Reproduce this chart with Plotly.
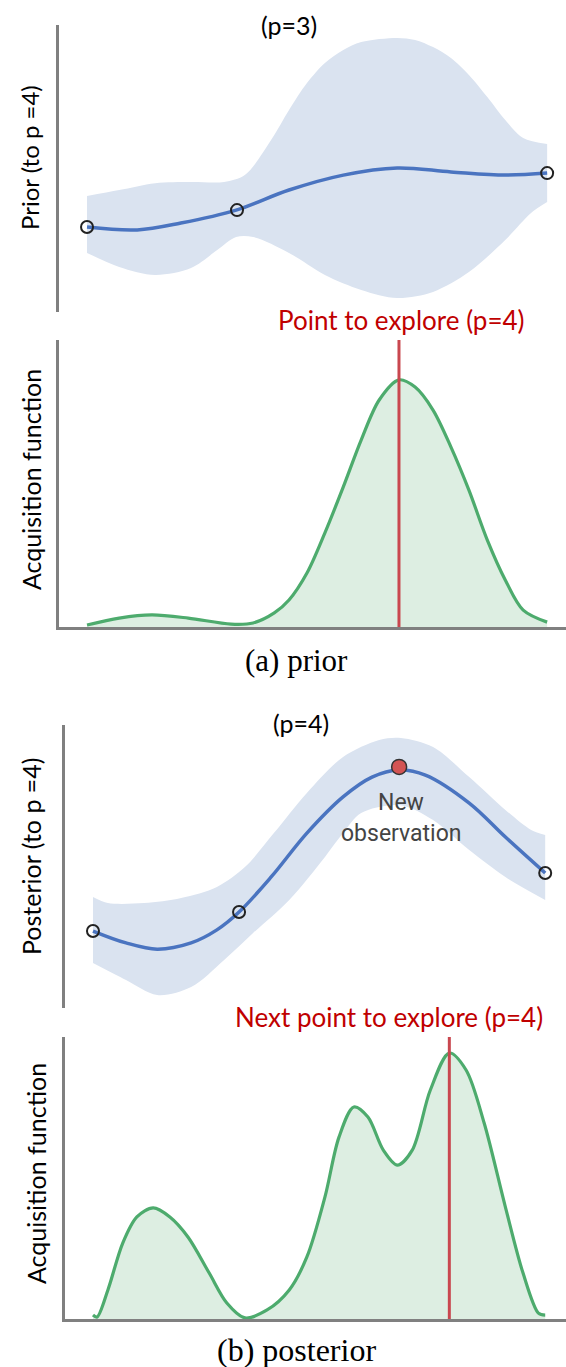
import plotly.graph_objects as go

W, H = 566, 1367

# ---------------- data (arbitrary units, x: 0..10, y: 0..10) ----------------
# (a) prior: GP mean / confidence band (p=3)
prior_mean_x = [0, 1.09, 2.04, 3.24, 4.39, 5.57, 6.74, 7.91, 9.09, 10]
prior_mean_y = [2.96, 2.86, 3.10, 3.55, 4.25, 4.77, 5.02, 4.88, 4.77, 4.84]
prior_up_x = [0, 0.70, 1.48, 2.26, 2.98, 3.43, 4.00, 4.39, 4.78, 5.17, 5.57, 5.96,
              6.74, 7.13, 7.52, 7.91, 8.30, 8.70, 9.09, 9.48, 10]
prior_up_y = [4.04, 4.25, 4.49, 4.53, 4.53, 4.77, 5.99, 7.04, 7.98, 8.68, 9.13, 9.41,
              9.55, 9.48, 9.23, 8.85, 8.26, 7.49, 6.69, 6.06, 5.85]
prior_lo_x = [0, 0.70, 1.48, 2.26, 2.83, 3.24, 3.61, 4.39, 5.17, 5.96, 6.74, 7.52,
              8.30, 9.09, 9.65, 10]
prior_lo_y = [2.06, 1.57, 1.29, 1.53, 2.16, 2.61, 2.61, 2.06, 1.29, 0.77, 0.49, 0.70,
              1.39, 2.51, 3.45, 3.83]
prior_obs_x = [0, 3.26, 10]
prior_obs_y = [2.96, 3.55, 4.84]

# (a) acquisition function
acq_a_x = [0, 0.70, 1.41, 2.20, 3.13, 3.61, 4.07, 4.39, 4.78, 5.17, 5.57, 5.96,
           6.35, 6.78, 7.13, 7.52, 7.91, 8.30, 8.70, 9.09, 9.48, 10]
acq_a_y = [0.07, 0.31, 0.42, 0.31, 0.10, 0.14, 0.49, 0.94, 1.88, 3.28, 4.88, 6.52,
           7.91, 8.61, 8.36, 7.56, 6.27, 4.77, 3.03, 1.64, 0.59, 0.17]
explore_a_x = 6.78

# (b) posterior: GP mean / band (p=4)
post_mean_x = [0, 0.73, 1.42, 2.17, 2.74, 3.23, 3.94, 4.73, 5.53, 6.17, 6.77, 7.35,
               8.32, 9.12, 10]
post_mean_y = [2.72, 2.30, 2.08, 2.30, 2.76, 3.39, 4.63, 6.18, 7.46, 8.16, 8.41, 8.23,
               7.24, 6.04, 4.77]
post_up_x = [0, 0.33, 1.13, 1.95, 2.74, 3.36, 4.00, 4.73, 5.53, 6.33, 6.81, 7.52,
             8.32, 9.12, 9.69, 10]
post_up_y = [3.92, 3.71, 3.71, 3.89, 4.28, 4.98, 6.18, 7.60, 8.87, 9.47, 9.54, 9.22,
             8.16, 7.00, 6.29, 6.11]
post_lo_x = [0, 0.73, 1.42, 2.17, 2.90, 3.54, 4.34, 5.13, 5.53, 5.93, 6.77, 7.52,
             8.32, 9.12, 10]
post_lo_y = [1.59, 0.99, 0.46, 0.74, 1.70, 2.65, 3.82, 5.34, 6.18, 6.89, 7.17, 6.64,
             5.58, 4.63, 3.82]
post_obs_x = [0, 3.23, 10]
post_obs_y = [2.72, 3.39, 4.77]
new_obs_x = [6.77]
new_obs_y = [8.52]

# (b) acquisition function
acq_b_x = [0, 0.09, 0.33, 0.66, 0.97, 1.33, 1.70, 2.10, 2.57, 2.96, 3.36, 3.85,
           4.34, 4.73, 5.13, 5.44, 5.77, 6.08, 6.42, 6.73, 7.06, 7.46, 7.88, 8.25,
           8.65, 9.12, 9.51, 9.85, 10]
acq_b_y = [0.14, 0.07, 1.03, 2.70, 3.62, 3.94, 3.62, 2.91, 1.63, 0.57, 0.04, 0.32,
           1.03, 2.20, 4.33, 6.45, 7.52, 7.16, 5.99, 5.46, 5.99, 8.12, 9.43, 8.83,
           6.95, 3.97, 1.63, 0.21, 0.14]
explore_b_x = 7.88

# ---------------- styling ----------------
BLUE = "#4a74c0"
BAND = "#dae3f0"
GREEN = "#4dab6d"
GREEN_FILL = "#ddeee2"
RED_LINE = "#c9474f"
RED_TXT = "#c00000"
AXIS = "#808080"
SANS = "Lato, 'Noto Sans', sans-serif"
SERIF = "'Liberation Serif', 'Times New Roman', serif"


def px(x):
    return x / W


def py(y):
    return 1 - y / H


fig = go.Figure()


def band(xu, yu, xl, yl, ax):
    fig.add_trace(go.Scatter(x=xl, y=yl, mode="lines",
                             line=dict(width=0, color=BAND, shape="spline", smoothing=0.9),
                             hoverinfo="skip", xaxis="x" + ax, yaxis="y" + ax))
    fig.add_trace(go.Scatter(x=xu, y=yu, mode="lines", fill="tonexty", fillcolor=BAND,
                             line=dict(width=0, color=BAND, shape="spline", smoothing=0.9),
                             hoverinfo="skip", xaxis="x" + ax, yaxis="y" + ax))


# panel 1
band(prior_up_x, prior_up_y, prior_lo_x, prior_lo_y, "")
fig.add_trace(go.Scatter(x=prior_mean_x, y=prior_mean_y, mode="lines",
                         line=dict(color=BLUE, width=3.5, shape="spline", smoothing=1),
                         xaxis="x", yaxis="y"))
fig.add_trace(go.Scatter(x=prior_obs_x, y=prior_obs_y, mode="markers",
                         marker=dict(symbol="circle-open", size=12, color="#222",
                                     line=dict(width=2, color="#222")),
                         cliponaxis=False, xaxis="x", yaxis="y"))

# panel 2
fig.add_trace(go.Scatter(x=acq_a_x, y=acq_a_y, mode="lines", fill="tozeroy",
                         fillcolor=GREEN_FILL,
                         line=dict(color=GREEN, width=3.2, shape="spline", smoothing=0.9),
                         xaxis="x2", yaxis="y2"))
fig.add_trace(go.Scatter(x=[explore_a_x, explore_a_x], y=[-0.05, 10], mode="lines",
                         line=dict(color=RED_LINE, width=3), cliponaxis=False,
                         xaxis="x2", yaxis="y2"))

# panel 3
band(post_up_x, post_up_y, post_lo_x, post_lo_y, "3")
fig.add_trace(go.Scatter(x=post_mean_x, y=post_mean_y, mode="lines",
                         line=dict(color=BLUE, width=3.5, shape="spline", smoothing=1),
                         xaxis="x3", yaxis="y3"))
fig.add_trace(go.Scatter(x=post_obs_x, y=post_obs_y, mode="markers",
                         marker=dict(symbol="circle-open", size=12, color="#222",
                                     line=dict(width=2, color="#222")),
                         cliponaxis=False, xaxis="x3", yaxis="y3"))
fig.add_trace(go.Scatter(x=new_obs_x, y=new_obs_y, mode="markers",
                         marker=dict(symbol="circle", size=15, color="#d35454",
                                     line=dict(width=1.5, color="#333")),
                         cliponaxis=False, xaxis="x3", yaxis="y3"))

# panel 4
fig.add_trace(go.Scatter(x=acq_b_x, y=acq_b_y, mode="lines", fill="tozeroy",
                         fillcolor=GREEN_FILL,
                         line=dict(color=GREEN, width=3.2, shape="spline", smoothing=0.9),
                         xaxis="x4", yaxis="y4"))
fig.add_trace(go.Scatter(x=[explore_b_x, explore_b_x], y=[-0.05, 10], mode="lines",
                         line=dict(color=RED_LINE, width=3), cliponaxis=False,
                         xaxis="x4", yaxis="y4"))

# ---------------- axes ----------------
def xax(domain_px, rng, show_line):
    return dict(domain=[px(domain_px[0]), px(domain_px[1])], range=rng,
                showgrid=False, zeroline=False, showticklabels=False, ticks="",
                showline=show_line, linecolor=AXIS, linewidth=2.5, fixedrange=True)


def yax(domain_py, anchor):
    return dict(domain=[py(domain_py[1]), py(domain_py[0])], range=[0, 10],
                showgrid=False, zeroline=False, showticklabels=False, ticks="",
                showline=True, linecolor=AXIS, linewidth=2.5, anchor=anchor,
                fixedrange=True)


xr_a = [-0.609, 10.41]
xr_b = [-0.619, 10.46]

fig.update_layout(
    width=W, height=H,
    margin=dict(l=0, r=0, t=0, b=0),
    paper_bgcolor="white", plot_bgcolor="rgba(0,0,0,0)",
    showlegend=False,
    xaxis=dict(xax([59, 566], xr_a, False), anchor="y"),
    yaxis=yax([25, 312], "x"),
    xaxis2=dict(xax([59, 566], xr_a, True), anchor="y2"),
    yaxis2=yax([340, 627], "x2"),
    xaxis3=dict(xax([65, 566], xr_b, False), anchor="y3"),
    yaxis3=yax([725, 1008], "x3"),
    xaxis4=dict(xax([65, 566], xr_b, True), anchor="y4"),
    yaxis4=yax([1037, 1319], "x4"),
)

ann = []


def text(t, x, y, size, color="black", family=SANS, angle=0):
    ann.append(dict(text=t, x=px(x), y=py(y), xref="paper", yref="paper",
                    showarrow=False, xanchor="center", yanchor="middle",
                    textangle=angle, font=dict(size=size, color=color, family=family)))


text("(p=3)", 289, 25, 25)
text("Prior (to p =4)", 29, 158, 24, angle=-90)
text("Point to explore (p=4)", 401, 320, 26, color=RED_TXT)
text("Acquisition function", 31, 480, 25, angle=-90)
text("(a) prior", 296, 660, 31, family=SERIF)

text("(p=4)", 301, 723, 25)
text("Posterior (to p =4)", 31, 857, 25, angle=-90)
text("New", 401, 802, 23, color="#444", family="Roboto, sans-serif")
text("observation", 401, 833, 23, color="#444", family="Roboto, sans-serif")
text("Next point to explore (p=4)", 389, 1017, 26, color=RED_TXT)
text("Acquisition function", 36, 1174, 25, angle=-90)
text("(b) posterior", 296, 1350, 32, family=SERIF)

fig.update_layout(annotations=ann)
fig.write_html("out.html")
